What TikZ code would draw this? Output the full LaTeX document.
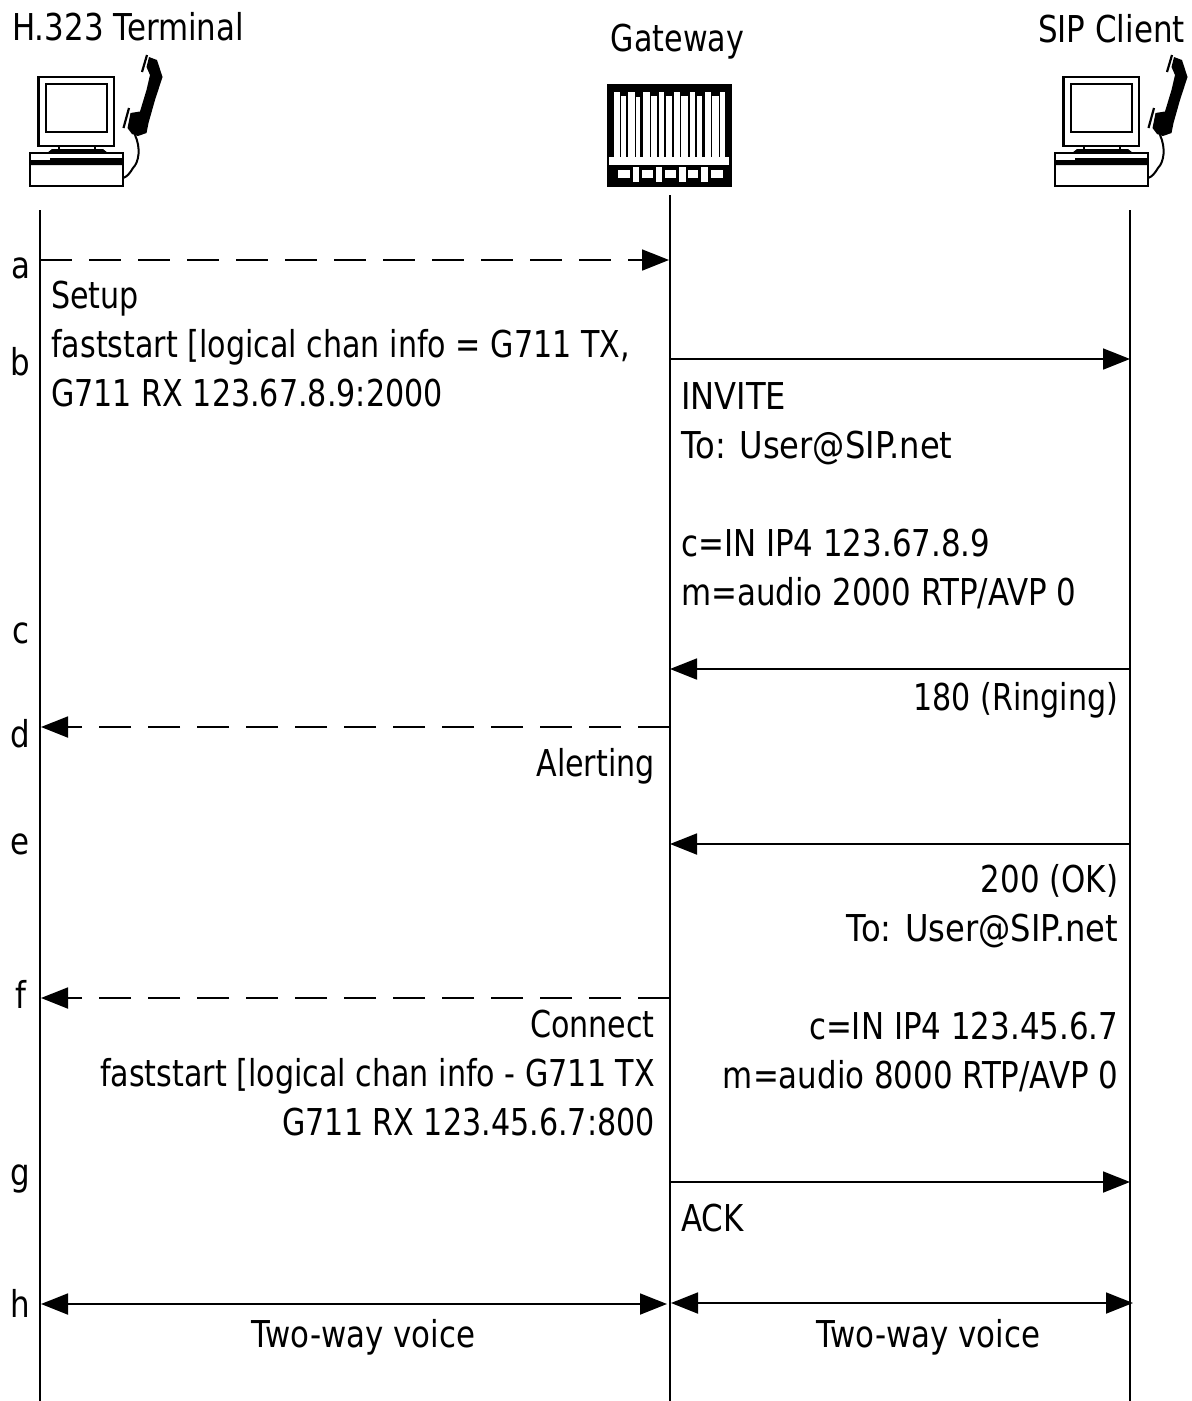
\documentclass[tikz,border=0pt]{standalone}
\usepackage{fontspec}
\setmainfont[FakeStretch=0.835]{DejaVu Sans}
\newfontfamily\narrowf[FakeStretch=0.815]{DejaVu Sans}
\newfontfamily\widef[FakeStretch=0.87]{DejaVu Sans}
\usetikzlibrary{arrows.meta}
\tikzset{
  lbl/.style={inner sep=0pt,font=\fontsize{37}{49}\selectfont,text=black},
  lblr/.style={lbl,align=right,anchor=base east},
  lbll/.style={lbl,align=left,anchor=base west},
  lblc/.style={lbl,anchor=base},
  life/.style={line width=2pt,black},
  msg/.style={line width=1.8pt,black,-{Triangle[length=27pt,width=21pt]}},
  dmsg/.style={msg,dash pattern=on 32pt off 17pt},
  bmsg/.style={line width=1.8pt,black,{Triangle[length=27pt,width=21pt]}-{Triangle[length=27pt,width=21pt]}},
  ln/.style={line width=2.5pt,black},
}
\newcommand{\pcicon}[1]{%
\begin{scope}[shift={(#1,0)}]
  \draw[ln] (38.5,77) rectangle (114,146);
  \draw[ln,line width=2.8pt] (46,84) rectangle (107,132);
  \draw[ln] (59,146) -- (59,150) (95,146) -- (95,150);
  \fill (47,153) -- (52,149) -- (103,149) -- (108,153) -- cycle;
  \draw[ln] (30,153) rectangle (123,186);
  \fill (30,160) -- (50,160) -- (50,158) -- (123,158) -- (123,165) -- (30,165) -- cycle;
  \fill (149,57) -- (157,60) -- (162.5,77) -- (155,100) -- (148.5,123) -- (146.5,133) -- (138,136) -- (132,134) -- (127.5,128) -- (130.5,113) -- (140,111.5) -- (146.5,90) -- (150,75) -- (146.5,67) -- cycle;
  \draw[line width=2.2pt] (147,55) -- (142,72) (129,108) -- (123.5,128);
  \draw[line width=2pt] (135,135) .. controls (141,148) and (139,162) .. (133,168) .. controls (130,173) and (127,177) .. (123,178);
\end{scope}}
\begin{document}
\begin{tikzpicture}[x=1pt,y=-1pt]
\useasboundingbox (0,0) rectangle (1192,1401);
\fill[white] (0,0) rectangle (1192,1401);
% headers
\node[lbll] (hterm) at (12,40) {H.323 Terminal};
\node[lblc] (hgw) at (677.5,51) {\narrowf Gateway};
\node[lblr] (hsip) at (1185,42) {SIP Client};
% icons
\pcicon{0}
\pcicon{1025}
\fill (607,84) rectangle (732,187);
\fill[white] (609,157) rectangle (729,165);
\foreach \a/\b/\t in {71/91/245,94/109/258,114/134/245,139/151/262,159/179/245,184/201/258,207/223/245,229/246/258,252/269/245,274/293/258,299/316/245,321/336/258,344/363/245,367/386/258,391/406/245}{
  \fill[white] ({590+\a/3},{10+\t/3}) rectangle ({590+\b/3},157);
}
\foreach \a/\b/\t/\u in {85/120/480/505,128/148/470/515,155/190/480/505,197/215/470/515,225/258/480/505,268/288/470/515,295/325/480/505,332/355/470/515,362/398/480/505}{
  \fill[white] ({590+\a/3},{10+\t/3}) rectangle ({590+\b/3},{10+\u/3});
}
% lifelines
\coordinate (t0) at (40,210); \coordinate (t1) at (40,1401);
\coordinate (g0) at (670,195); \coordinate (g1) at (670,1401);
\coordinate (s0) at (1130,210); \coordinate (s1) at (1130,1401);
\draw[life] (t0) -- (t1);
\draw[life] (g0) -- (g1);
\draw[life] (s0) -- (s1);
% messages
\coordinate (ta) at (40,260); \coordinate (ga) at (669,260);
\draw[dmsg] (ta) -- (ga);
\coordinate (gb) at (670,359); \coordinate (sb) at (1130,359);
\draw[msg] (gb) -- (sb);
\coordinate (sc) at (1130,669); \coordinate (gc) at (670,669);
\draw[msg] (sc) -- (gc);
\coordinate (gd) at (670,727); \coordinate (td) at (41,727);
\draw[dmsg] (gd) -- (td);
\coordinate (se) at (1130,844); \coordinate (ge) at (670,844);
\draw[msg] (se) -- (ge);
\coordinate (gf) at (670,998); \coordinate (tf) at (41,998);
\draw[dmsg] (gf) -- (tf);
\coordinate (gg) at (670,1182); \coordinate (sg) at (1130,1182);
\draw[msg] (gg) -- (sg);
\coordinate (th) at (41,1304); \coordinate (gh) at (667,1304);
\draw[bmsg] (th) -- (gh);
\coordinate (gi) at (671,1303); \coordinate (si) at (1133,1303);
\draw[bmsg] (gi) -- (si);
% step letters
\node[lblc] (la) at (20.5,278) {a};
\node[lblc] (lb) at (20.5,375) {b};
\node[lblc] (lc) at (20.5,643) {c};
\node[lblc] (ld) at (20.5,747) {d};
\node[lblc] (le) at (20.5,854) {e};
\node[lblc] (lf) at (20.5,1008) {f};
\node[lblc] (lg) at (20.5,1185) {g};
\node[lblc] (lh) at (20.5,1317) {h};
% message labels
\node[lbll] (m1) at (51,406) {\narrowf Setup\\\narrowf faststart [logical chan info = G711 TX,\\\narrowf G711 RX 123.67.8.9:2000};
\node[lbll] (m2) at (681,605) {\widef INVITE\\\widef To: User@SIP.net\\ \\c=IN IP4 123.67.8.9\\m=audio 2000 RTP/AVP 0};
\node[lblr] (m3) at (1118.5,710) {\narrowf 180 (Ringing)};
\node[lblr] (m4) at (655,776) {\narrowf Alerting};
\node[lblr] (m5) at (1118.5,1088) {200 (OK)\\\widef To: User@SIP.net\\ \\c=IN IP4 123.45.6.7\\m=audio 8000 RTP/AVP 0};
\node[lblr] (m6) at (655,1135) {\narrowf Connect\\\narrowf faststart [logical chan info - G711 TX\\\narrowf G711 RX 123.45.6.7:800};
\node[lbll] (m7) at (681,1231) {ACK};
\node[lblc] (m8) at (363.5,1347) {Two-way voice};
\node[lblc] (m9) at (928.5,1347) {Two-way voice};
\end{tikzpicture}
\end{document}
